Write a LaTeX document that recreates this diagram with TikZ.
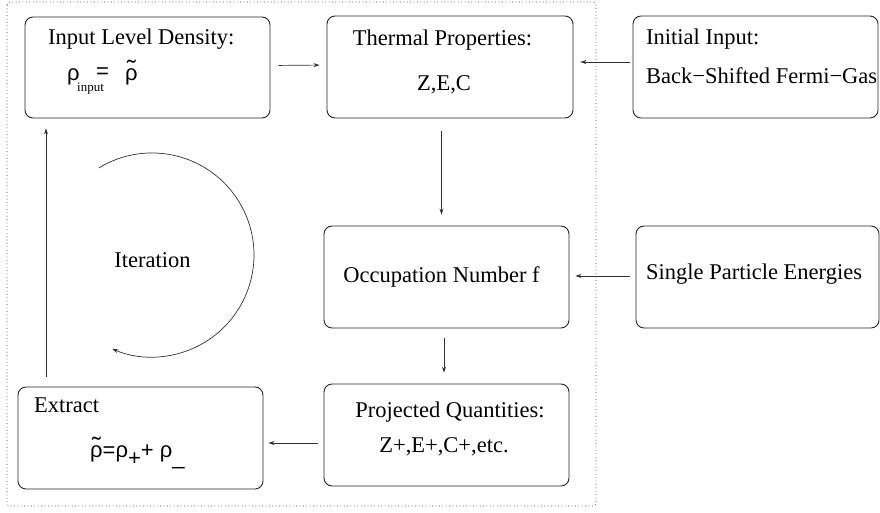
\documentclass[tikz,border=0pt]{standalone}
\usepackage{fontspec}
\setmainfont{Liberation Serif}
\newfontfamily\rhof{Liberation Sans}
\usetikzlibrary{arrows.meta,calc}
\newcommand\trho{\leavevmode\rlap{\raisebox{3pt}{\makebox[\fontcharwd\font`ρ][c]{\scalebox{1.2}[1.1]{˜}}}}ρ}
\begin{document}
\begin{tikzpicture}[x=1pt,y=1pt,
  box/.style={draw=black!85,line width=0.9pt,rounded corners=8pt,rectangle,inner sep=0pt},
  conn/.style={draw=black!80,line width=0.7pt,-{Stealth[length=6pt,width=4pt]}},
  txt/.style={font=\fontsize{22.5}{26}\selectfont,inner sep=0pt},
  rtxt/.style={font=\fontsize{22}{26}\rhof,inner sep=0pt}]
\clip (0,0) rectangle (880,-512);
\fill[white] (0,0) rectangle (880,-512);
% dotted frame
\draw[black!70,line width=0.7pt,dash pattern=on 0.8pt off 2.6pt,rounded corners=3pt] (7,-2) rectangle (596,-506);
% boxes
\node[box,minimum width=245pt,minimum height=101pt] (b1) at (147.5,-67.5) {};
\node[box,minimum width=246pt,minimum height=102pt] (b2) at (450,-67) {};
\node[box,minimum width=245pt,minimum height=102pt] (b3) at (755.5,-67) {};
\node[box,minimum width=245pt,minimum height=102pt] (b4) at (446.5,-277) {};
\node[box,minimum width=243pt,minimum height=102pt] (b5) at (757.5,-277) {};
\node[box,minimum width=245pt,minimum height=102pt] (b6) at (140.5,-438) {};
\node[box,minimum width=245pt,minimum height=102pt] (b7) at (446.5,-435) {};
% texts
\node[txt,anchor=base west] (t1) at (48,-44) {Input Level Density:};
\node[rtxt,anchor=base west] (r1) at (67,-80) {ρ};
\node[inner sep=0pt,anchor=base west,font=\fontsize{13}{15}\selectfont] (s1) at (77,-91) {input};
\node[rtxt,anchor=base west] (e1) at (96,-78) {=};
\node[rtxt,anchor=base west] (r2) at (125,-80) {\trho};
\node[txt,anchor=base] (t2) at (442.5,-45) {Thermal Properties:};
\node[txt,anchor=base] (t3) at (444,-90) {Z,E,C};
\node[txt,anchor=base west] (t4) at (646,-44) {Initial Input:};
\node[txt,anchor=base west] (t5) at (646,-83) {Back−Shifted Fermi−Gas};
\node[txt,anchor=base] (t6) at (441.5,-282) {Occupation Number f};
\node[txt,anchor=base west] (t7) at (646,-279) {Single Particle Energies};
\node[txt,anchor=base west] (t8) at (34,-412) {Extract};
\node[rtxt,anchor=base west] (f1) at (90,-457) {\trho=ρ\raisebox{-8pt}{+}+ ρ\raisebox{-7pt}{\_}};
\node[txt,anchor=base] (t9) at (450,-417) {Projected Quantities:};
\node[txt,anchor=base] (t10) at (444,-452) {Z+,E+,C+,etc.};
\node[txt,anchor=base] (it) at (152.5,-267) {Iteration};
% connectors
\draw[conn,shorten <=8pt,shorten >=7pt] ($(b1.east)+(0,2)$) -- ($(b2.west)+(0,2)$);
\draw[conn,shorten <=3pt,shorten >=7pt] ($(b3.west)+(0,5)$) -- ($(b2.east)+(0,5)$);
\draw[conn,shorten <=13pt,shorten >=11pt] ($(b2.south)+(-8.5,0)$) -- ($(b4.north)+(-5,0)$);
\draw[conn,shorten <=6pt,shorten >=6pt] ($(b5.west)+(0,1)$) -- ($(b4.east)+(0,1)$);
\draw[conn,shorten <=10pt,shorten >=11pt] ($(b4.south)+(-2.5,0)$) -- ($(b7.north)+(-2.5,0)$);
\draw[conn,shorten <=6pt,shorten >=5pt] ($(b7.west)+(0,-8)$) -- ($(b6.east)+(0,-5)$);
\draw[conn,shorten <=10pt,shorten >=10pt] ($(b6.north)+(-94.5,0)$) -- ($(b1.south)+(-101.5,0)$);
% iteration arc
\coordinate (as) at (98.7,-168);
\draw[conn] (as) arc[start angle=121.5,end angle=-113,radius=102pt];
\end{tikzpicture}
\end{document}
